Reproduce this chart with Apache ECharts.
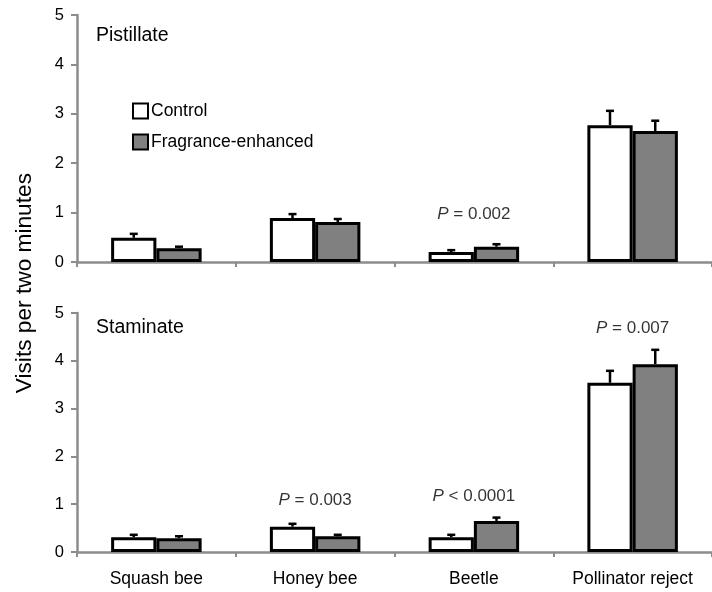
<!DOCTYPE html>
<html>
<head>
<meta charset="utf-8">
<script src="https://cdn.jsdelivr.net/npm/echarts@6/dist/echarts.min.js"></script>
<style>html,body{margin:0;padding:0;background:#fff}#c{width:712px;height:592px}</style>
</head>
<body>
<div id="c"></div>
<script>
var categories = ['Squash bee', 'Honey bee', 'Beetle', 'Pollinator reject'];
var yTicks = [0, 1, 2, 3, 4, 5];
var pistControl = [0.49, 0.89, 0.20, 2.77];
var pistControlSE = [0.08, 0.08, 0.04, 0.29];
var pistFrag = [0.28, 0.81, 0.31, 2.65];
var pistFragSE = [0.03, 0.06, 0.05, 0.21];
var stamControl = [0.31, 0.53, 0.31, 3.54];
var stamControlSE = [0.05, 0.06, 0.05, 0.25];
var stamFrag = [0.29, 0.33, 0.65, 3.93];
var stamFragSE = [0.04, 0.03, 0.07, 0.30];
var pistNotes = [['Beetle', 0.96, '=', '0.002']];
var stamNotes = [['Honey bee', 1.09, '=', '0.003'], ['Beetle', 1.16, '<', '0.0001'], ['Pollinator reject', 4.68, '=', '0.007']];

var FONT = 'Liberation Sans';
var AXIS = '#8c8c8c';
var TXT = '#000';
var BARFRAC = 0.285;

function errData(vals, se) {
  return vals.map(function (v, i) { return [i, v, v + se[i]]; });
}
function errSeries(idx, vals, se, side) {
  return {
    type: 'custom', xAxisIndex: idx, yAxisIndex: idx, z: 1,
    data: errData(vals, se),
    renderItem: function (params, api) {
      var c = api.value(0);
      var base = api.coord([c, api.value(1)]);
      var top = api.coord([c, api.value(2)]);
      var band = api.size([1, 0])[0];
      var x = base[0] + side * band * BARFRAC / 2;
      return {
        type: 'group',
        children: [
          { type: 'line', shape: { x1: x, y1: base[1], x2: x, y2: top[1] }, style: { stroke: '#000', lineWidth: 2.5 } },
          { type: 'line', shape: { x1: x - 4, y1: top[1], x2: x + 4, y2: top[1] }, style: { stroke: '#000', lineWidth: 2.5 } }
        ]
      };
    }
  };
}
function barSeries(idx, name, vals, color) {
  return {
    type: 'bar', name: name, xAxisIndex: idx, yAxisIndex: idx, z: 2,
    data: vals, barWidth: (BARFRAC * 100) + '%', barGap: '0%',
    itemStyle: { color: color, borderColor: '#000', borderWidth: 3 },
    emphasis: { disabled: true }
  };
}
function noteSeries(idx, notes) {
  return {
    type: 'scatter', xAxisIndex: idx, yAxisIndex: idx, symbolSize: 0, z: 3,
    data: notes.map(function (n) { return { value: [n[0], n[1]], op: n[2], num: n[3] }; }),
    label: {
      show: true, position: 'inside',
      formatter: function (p) { return '{i|P} ' + p.data.op + ' ' + p.data.num; },
      fontFamily: FONT, fontSize: 17, color: TXT,
      rich: { i: { fontStyle: 'italic', fontFamily: FONT, fontSize: 17, color: TXT } }
    },
    silent: true
  };
}
function xAx(idx, showLabels) {
  return {
    type: 'category', gridIndex: idx, data: categories,
    axisLine: { lineStyle: { color: AXIS, width: 2.5 } },
    axisTick: { show: true, length: 5, lineStyle: { color: AXIS, width: 2 } },
    axisLabel: { show: showLabels, fontFamily: FONT, fontSize: 17.5, color: TXT, margin: 18 },
    splitLine: { show: false }
  };
}
function yAx(idx) {
  return {
    type: 'value', gridIndex: idx, min: yTicks[0], max: yTicks[yTicks.length - 1], interval: 1,
    axisLine: { show: true, lineStyle: { color: AXIS, width: 2.5 } },
    axisTick: { show: true, length: 6, lineStyle: { color: AXIS, width: 2 } },
    axisLabel: { fontFamily: FONT, fontSize: 16.5, color: TXT, margin: 13 },
    splitLine: { show: false }
  };
}

var chart = echarts.init(document.getElementById('c'));
chart.setOption({
  animation: false,
  backgroundColor: '#fff',
  grid: [
    { left: 77, top: 15, height: 247, right: -4 },
    { left: 77, top: 313, height: 239, right: -4 }
  ],
  title: [
    { text: 'Pistillate', left: 91, top: 21, textStyle: { fontFamily: FONT, fontSize: 19.5, fontWeight: 'normal', color: TXT } },
    { text: 'Staminate', left: 91, top: 313, textStyle: { fontFamily: FONT, fontSize: 19.5, fontWeight: 'normal', color: TXT } }
  ],
  legend: {
    orient: 'vertical', left: 127, top: 97, itemWidth: 15, itemHeight: 15, itemGap: 13,
    icon: 'rect', data: ['Control', 'Fragrance-enhanced'],
    textStyle: { fontFamily: FONT, fontSize: 17.5, color: TXT, padding: [0, 0, 0, -2] },
    itemStyle: { borderColor: '#000', borderWidth: 2 },
    selectedMode: false
  },
  xAxis: [xAx(0, false), xAx(1, true)],
  yAxis: [yAx(0), yAx(1)],
  series: [
    barSeries(0, 'Control', pistControl, '#ffffff'),
    barSeries(0, 'Fragrance-enhanced', pistFrag, '#808080'),
    errSeries(0, pistControl, pistControlSE, -1),
    errSeries(0, pistFrag, pistFragSE, 1),
    noteSeries(0, pistNotes),
    barSeries(1, 'Control', stamControl, '#ffffff'),
    barSeries(1, 'Fragrance-enhanced', stamFrag, '#808080'),
    errSeries(1, stamControl, stamControlSE, -1),
    errSeries(1, stamFrag, stamFragSE, 1),
    noteSeries(1, stamNotes)
  ],
  graphic: [
    { type: 'text', left: 13, top: 173, rotation: Math.PI / 2, originX: 0, originY: 0,
      style: { text: 'Visits per two minutes', fontFamily: FONT, fontSize: 22.7, fill: TXT } }
  ]
});
</script>
</body>
</html>
